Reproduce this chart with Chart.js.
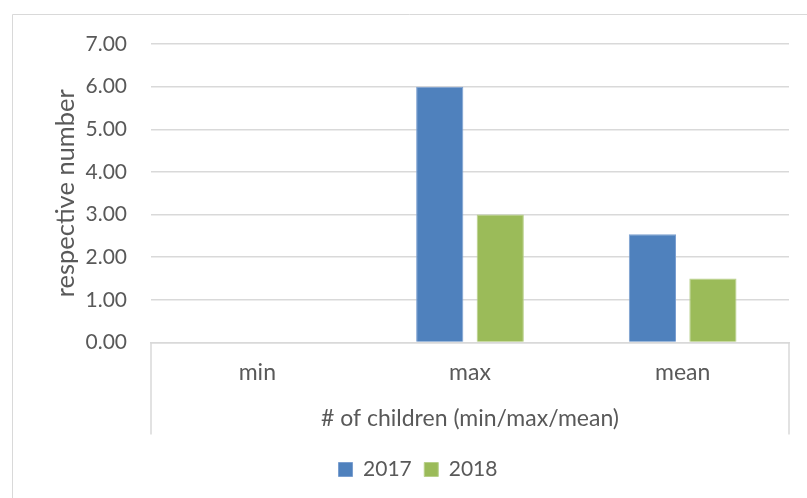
<!DOCTYPE html>
<html>
<head>
<meta charset="utf-8">
<title># of children</title>
<script src="https://cdn.jsdelivr.net/npm/chart.js@4.4.0/dist/chart.umd.min.js"></script>
<style>
  html, body { margin: 0; padding: 0; background: #ffffff; }
  #wrap { width: 807px; height: 498px; }
</style>
</head>
<body>
<div id="wrap"><canvas id="childrenChart" width="807" height="498"></canvas></div>
<script>
// min / max / mean number of children per year
const categories = ['min', 'max', 'mean'];
const seriesNames = ['2017', '2018'];
const values2017 = [0, 6, 2.54];
const values2018 = [0, 3, 1.5];
const yMin = 0;
const yMax = 7;
const yStep = 1;

const TEXT = '#595959';
const LINE = '#d9d9d9';
const numFont = { family: 'Lato', size: 21 };
const wordFont = { family: 'Lato', size: 23 };

// outer frame plus the group dividers that hang below the category axis
const framePlugin = {
  id: 'frame',
  beforeDraw(chart) {
    const ctx = chart.ctx;
    ctx.save();
    ctx.strokeStyle = LINE;
    ctx.lineWidth = 1;
    ctx.beginPath();
    ctx.moveTo(12.5, chart.height);
    ctx.lineTo(12.5, 14.5);
    ctx.lineTo(chart.width, 14.5);
    ctx.stroke();
    ctx.restore();
  },
  afterDraw(chart) {
    const x = chart.scales.x;
    const ctx = chart.ctx;
    ctx.save();
    ctx.strokeStyle = LINE;
    ctx.lineWidth = 1.5;
    ctx.beginPath();
    [x.left, x.right].forEach(px => {
      ctx.moveTo(px, x.top);
      ctx.lineTo(px, x.top + 92);
    });
    ctx.stroke();
    ctx.restore();
  }
};

new Chart(document.getElementById('childrenChart'), {
  type: 'bar',
  data: {
    labels: categories,
    datasets: [
      {
        label: seriesNames[0],
        data: values2017,
        backgroundColor: '#4f81bd',
        borderColor: '#7b9fd0',
        borderWidth: 1,
        borderSkipped: 'bottom'
      },
      {
        label: seriesNames[1],
        data: values2018,
        backgroundColor: '#9bbb59',
        borderColor: '#b8d08a',
        borderWidth: 1,
        borderSkipped: 'bottom'
      }
    ]
  },
  options: {
    responsive: false,
    devicePixelRatio: 1,
    animation: false,
    events: [],
    datasets: {
      bar: { categoryPercentage: 0.569, barPercentage: 0.78 }
    },
    layout: { padding: { left: 47, right: 18, top: 44, bottom: 8 } },
    font: { family: 'Lato', size: 21 },
    color: TEXT,
    plugins: {
      tooltip: { enabled: false },
      legend: {
        position: 'bottom',
        labels: {
          boxWidth: 14,
          boxHeight: 14,
          padding: 12.5,
          color: TEXT,
          font: numFont
        }
      }
    },
    scales: {
      x: {
        grid: { display: false, drawTicks: false },
        border: { display: true, color: LINE, width: 1.5 },
        ticks: { padding: 16, color: TEXT, font: wordFont },
        title: {
          display: true,
          text: '# of children (min/max/mean)',
          color: TEXT,
          font: wordFont,
          padding: { top: 0, bottom: 14 }
        },
        afterFit(scale) { scale.height = 104; }
      },
      y: {
        min: yMin,
        max: yMax,
        ticks: {
          stepSize: yStep,
          padding: 24,
          color: TEXT,
          font: numFont,
          callback: v => v.toFixed(2)
        },
        grid: { color: LINE, lineWidth: 1.5, drawTicks: false },
        border: { display: false },
        title: {
          display: true,
          text: 'respective number',
          color: TEXT,
          font: { family: 'Lato', size: 25.5 },
          padding: { top: 3, bottom: 0 }
        },
        afterFit(scale) { scale.width = 104; }
      }
    }
  },
  plugins: [framePlugin]
});
</script>
</body>
</html>
